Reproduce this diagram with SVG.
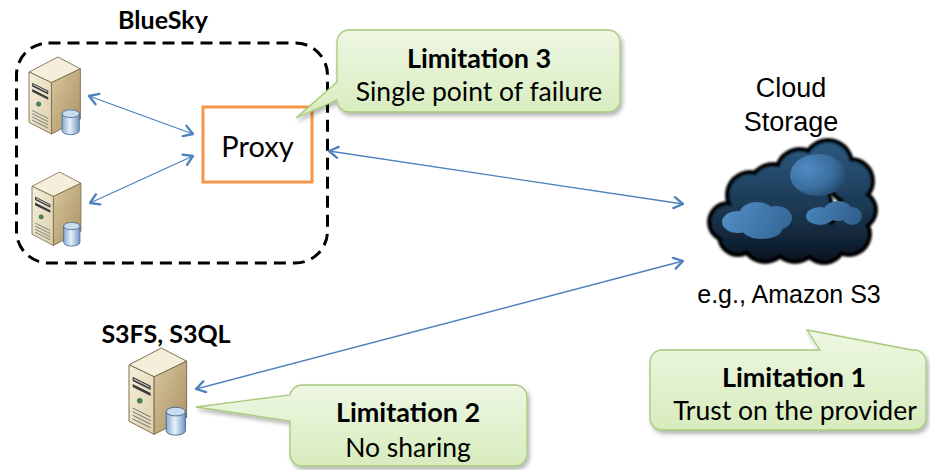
<svg xmlns="http://www.w3.org/2000/svg" xmlns:xlink="http://www.w3.org/1999/xlink" width="930" height="470" viewBox="0 0 930 470">
  <style>
    .lbl { font-family: Lato, "Open Sans", "Liberation Sans", sans-serif; fill: #000; text-anchor: middle; }
    .bold { font-weight: bold; }
    .arial { font-family: "Liberation Sans", Arial, sans-serif; fill: #000; text-anchor: middle; }
    .link { fill: none; stroke: #4F81BD; stroke-width: 1.3; marker-start: url(#arr); marker-end: url(#arr); }
    .callout { fill: url(#calloutFill); stroke: #A6C97A; stroke-width: 1.3; filter: url(#shadow); }
    .srv-line { stroke: #7a6a4d; stroke-width: 0.8; stroke-linejoin: round; }
  </style>
  <defs>
    <marker id="arr" viewBox="-11 -7 13 14" refX="0" refY="0" markerWidth="13" markerHeight="14" markerUnits="userSpaceOnUse" orient="auto-start-reverse">
      <path d="M-9,-5.5 L0,0 L-9,5.5" fill="none" stroke="#4F81BD" stroke-width="2.3" stroke-linecap="round" stroke-linejoin="round"/>
    </marker>
    <linearGradient id="calloutFill" x1="0" y1="0" x2="0" y2="1">
      <stop offset="0" stop-color="#EEF7E3"/>
      <stop offset="1" stop-color="#D7ECBD"/>
    </linearGradient>
    <filter id="shadow" x="-10%" y="-10%" width="125%" height="130%">
      <feDropShadow dx="2" dy="3" stdDeviation="2" flood-color="#000" flood-opacity="0.3"/>
    </filter>
    <linearGradient id="frontFill" x1="0" y1="0" x2="1" y2="1">
      <stop offset="0" stop-color="#F6F0DC"/>
      <stop offset="1" stop-color="#DCCFAA"/>
    </linearGradient>
    <linearGradient id="sideFill" x1="0" y1="0" x2="1" y2="1">
      <stop offset="0" stop-color="#D9C79D"/>
      <stop offset="1" stop-color="#A89063"/>
    </linearGradient>
    <linearGradient id="dbFill" x1="0" y1="0" x2="1" y2="0">
      <stop offset="0" stop-color="#86AAD2"/>
      <stop offset="0.45" stop-color="#EAF2FB"/>
      <stop offset="1" stop-color="#7096C2"/>
    </linearGradient>
    <linearGradient id="cloudBody" gradientUnits="userSpaceOnUse" x1="790" y1="140" x2="790" y2="268">
      <stop offset="0" stop-color="#2D5A82"/>
      <stop offset="0.55" stop-color="#1B3852"/>
      <stop offset="1" stop-color="#07111B"/>
    </linearGradient>
    <radialGradient id="puffBig" cx="0.3" cy="0.35" r="0.8">
      <stop offset="0" stop-color="#4F8CC4"/>
      <stop offset="0.6" stop-color="#3A6D9C"/>
      <stop offset="1" stop-color="#1F4262"/>
    </radialGradient>
    <linearGradient id="puffLow" gradientUnits="userSpaceOnUse" x1="720" y1="200" x2="800" y2="245">
      <stop offset="0" stop-color="#5592CB"/>
      <stop offset="1" stop-color="#2D5D8A"/>
    </linearGradient>
    <linearGradient id="puffRight" gradientUnits="userSpaceOnUse" x1="800" y1="200" x2="865" y2="230">
      <stop offset="0" stop-color="#4E8BC3"/>
      <stop offset="1" stop-color="#2A5883"/>
    </linearGradient>
    <filter id="soft" x="-10%" y="-10%" width="120%" height="120%">
      <feGaussianBlur stdDeviation="0.8"/>
    </filter>
    <filter id="puffSoft" x="-10%" y="-10%" width="120%" height="120%">
      <feGaussianBlur stdDeviation="0.6"/>
    </filter>

    <!-- tower server with a small database drum -->
    <g id="server-icon">
      <path class="srv-line" d="M0,14 L27,0 L48,11 L21,24 Z" fill="#F4EEDB"/>
      <path class="srv-line" d="M0,14 L21,24 L21,72 L0,61 Z" fill="url(#frontFill)"/>
      <path class="srv-line" d="M21,24 L48,11 L48,58 L21,72 Z" fill="url(#sideFill)"/>
      <path d="M3,24 L18,31.5 L18,35 L3,27.5 Z" fill="#3b3b3b"/>
      <path d="M4,25.5 L17,32 L17,33 L4,26.5 Z" fill="#d8d8d8"/>
      <path d="M3,30 L18,37.5 L18,40 L3,32.5 Z" fill="#3b3b3b"/>
      <circle cx="9" cy="44" r="2" fill="#3E8E63" stroke="#2a4a38" stroke-width="0.6"/>
      <g stroke="#6e6e6e" stroke-width="0.8">
        <line x1="3" y1="50" x2="18" y2="57.5"/>
        <line x1="3" y1="53" x2="18" y2="60.5"/>
        <line x1="3" y1="56" x2="18" y2="63.5"/>
        <line x1="3" y1="59" x2="18" y2="66.5"/>
      </g>
      <path d="M31,53 V69 A8,3.6 0 0 0 47,69 V53 Z" fill="url(#dbFill)" stroke="#4a6a90" stroke-width="0.8"/>
      <ellipse cx="39" cy="53" rx="8" ry="3.6" fill="#C9DDF1" stroke="#4a6a90" stroke-width="0.8"/>
    </g>
  </defs>

  <rect width="930" height="470" fill="#fff"/>

  <!-- BlueSky group -->
  <g id="bluesky">
    <rect x="16.5" y="43" width="311" height="220" rx="32" fill="none" stroke="#000" stroke-width="3" stroke-dasharray="12 7"/>
    <text class="lbl bold" x="163" y="29" font-size="25">BlueSky</text>
  </g>

  <g id="server-top">
    <use xlink:href="#server-icon" transform="translate(29,57) scale(1.07)"/>
  </g>
  <g id="server-bottom">
    <use xlink:href="#server-icon" transform="translate(32,172) scale(1.02)"/>
  </g>

  <g id="proxy">
    <rect x="203" y="107" width="109" height="75" fill="#fff" stroke="#F79646" stroke-width="3"/>
    <text class="lbl" x="257.5" y="157" font-size="29">Proxy</text>
  </g>

  <g id="client">
    <text class="lbl bold" x="166" y="343" font-size="25">S3FS, S3QL</text>
    <use xlink:href="#server-icon" transform="translate(129,348) scale(1.2)"/>
  </g>

  <!-- cloud storage -->
  <g id="cloud">
    <text class="arial" x="791" y="97" font-size="27">Cloud</text>
    <text class="arial" x="791" y="131" font-size="27">Storage</text>
    <g filter="url(#soft)">
      <g fill="#000">
        <circle cx="728" cy="222" r="21"/>
        <circle cx="750" cy="195" r="25"/>
        <circle cx="773" cy="188" r="26"/>
        <circle cx="800" cy="173" r="26"/>
        <circle cx="828" cy="164" r="26"/>
        <circle cx="851" cy="181" r="24"/>
        <circle cx="857" cy="210" r="21"/>
        <circle cx="849" cy="234" r="23"/>
        <circle cx="824" cy="242" r="23"/>
        <circle cx="795" cy="239" r="25"/>
        <circle cx="765" cy="239" r="25"/>
        <circle cx="738" cy="236" r="21"/>
        <circle cx="800" cy="208" r="34"/>
      </g>
      <g fill="url(#cloudBody)">
        <circle cx="728" cy="222" r="16.5"/>
        <circle cx="750" cy="195" r="20.5"/>
        <circle cx="773" cy="188" r="21.5"/>
        <circle cx="800" cy="173" r="21.5"/>
        <circle cx="828" cy="164" r="21.5"/>
        <circle cx="851" cy="181" r="19.5"/>
        <circle cx="857" cy="210" r="16.5"/>
        <circle cx="849" cy="234" r="18.5"/>
        <circle cx="824" cy="242" r="18.5"/>
        <circle cx="795" cy="239" r="20.5"/>
        <circle cx="765" cy="239" r="20.5"/>
        <circle cx="738" cy="236" r="16.5"/>
        <circle cx="800" cy="208" r="30"/>
      </g>
    </g>
    <!-- lighter puffs inside the cloud -->
    <g filter="url(#puffSoft)">
      <ellipse cx="818" cy="175" rx="28" ry="21" fill="url(#puffBig)"/>
      <g fill="url(#puffLow)">
        <ellipse cx="738" cy="222" rx="16" ry="11"/>
        <ellipse cx="757" cy="215" rx="18" ry="13"/>
        <ellipse cx="776" cy="218" rx="16" ry="12"/>
        <ellipse cx="762" cy="229" rx="20" ry="10"/>
      </g>
      <g fill="url(#puffRight)">
        <ellipse cx="820" cy="216" rx="14" ry="9"/>
        <ellipse cx="838" cy="211" rx="14" ry="10"/>
        <ellipse cx="852" cy="216" rx="10" ry="9"/>
      </g>
    </g>
    <text class="arial" x="789" y="303" font-size="25">e.g., Amazon S3</text>
  </g>

  <!-- connectors -->
  <g id="connectors">
    <line class="link" x1="89" y1="96" x2="193" y2="134"/>
    <line class="link" x1="90" y1="203" x2="193" y2="156"/>
    <line class="link" x1="329" y1="151" x2="683" y2="204"/>
    <line class="link" x1="196" y1="389" x2="683" y2="261"/>
  </g>

  <!-- callouts -->
  <g id="limitation-3">
    <path class="callout" d="M349,30 H608 A12,12 0 0 1 620,42 V100 A12,12 0 0 1 608,112 H349 A12,12 0 0 1 337,100 L296,118 L337,82 V42 A12,12 0 0 1 349,30 Z"/>
    <text class="lbl bold" x="479" y="68" font-size="27">Limitation 3</text>
    <text class="lbl" x="479" y="101" font-size="26.5">Single point of failure</text>
  </g>

  <g id="limitation-2">
    <path class="callout" d="M302,385 H515 A12,12 0 0 1 527,397 V454 A12,12 0 0 1 515,466 H302 A12,12 0 0 1 290,454 V421 L196,407 L290,395 A12,12 0 0 1 302,385 Z"/>
    <text class="lbl bold" x="408" y="422" font-size="27">Limitation 2</text>
    <text class="lbl" x="408" y="457" font-size="26.5">No sharing</text>
  </g>

  <g id="limitation-1">
    <path class="callout" d="M662,350 H820 L807,330 L912,350 H914 A12,12 0 0 1 926,362 V418 A12,12 0 0 1 914,430 H662 A12,12 0 0 1 650,418 V362 A12,12 0 0 1 662,350 Z"/>
    <text class="lbl bold" x="794" y="387" font-size="27">Limitation 1</text>
    <text class="lbl" x="795" y="420" font-size="26.5">Trust on the provider</text>
  </g>
</svg>
